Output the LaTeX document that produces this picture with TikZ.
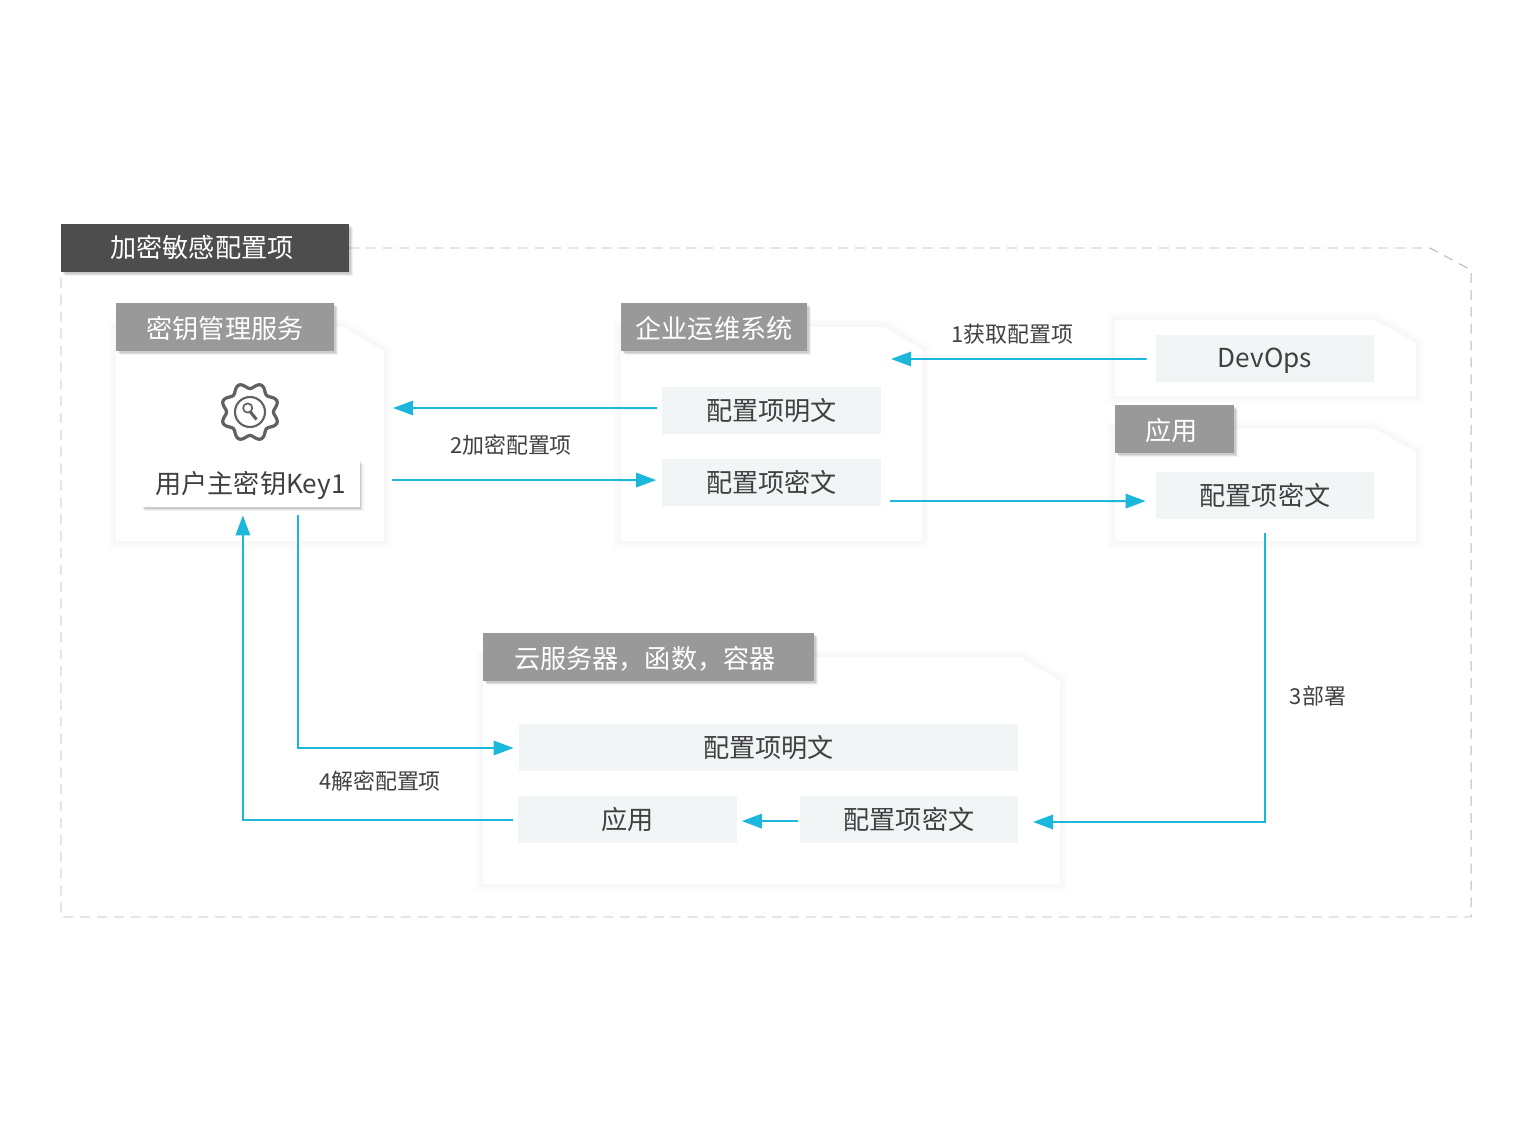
\documentclass[tikz,border=0pt]{standalone}
\usepackage{fontspec}
\setmainfont{Noto Sans CJK SC}
\usepackage{tikz}
\usetikzlibrary{arrows.meta, shadows}
\definecolor{flowcyan}{HTML}{1CB8DC}
\definecolor{itemgray}{HTML}{F1F5F5}
\definecolor{tabgray}{HTML}{999999}
\definecolor{titledark}{HTML}{4D4D4D}
\definecolor{textdark}{HTML}{404040}
\begin{document}
\begin{tikzpicture}[x=0.025cm, y=-0.025cm,
  softshadow/.style={general shadow={shadow xshift=.1cm, shadow yshift=-.1cm, opacity=.05, fill=black}, general shadow={shadow xshift=.07cm, shadow yshift=-.07cm, opacity=.07, fill=black}, general shadow={shadow xshift=.04cm, shadow yshift=-.04cm, opacity=.09, fill=black}},
  panel/.style={fill=white, line join=round, preaction={draw=black, draw opacity=.006, line width=.4cm}, preaction={draw=black, draw opacity=.006, line width=.3cm}, preaction={draw=black, draw opacity=.008, line width=.2cm}, preaction={draw=black, draw opacity=.008, line width=.1cm}},
  tab/.style={fill=tabgray, text=white, font=\fontsize{18.6}{20}\selectfont, minimum height=1.2cm, inner sep=0pt, text height=19pt, text depth=2.5pt, softshadow},
  item/.style={fill=itemgray, text=textdark, font=\fontsize{18.6}{20}\selectfont, minimum width=5.45cm, minimum height=1.18cm, inner sep=0pt},
  flow/.style={draw=flowcyan, line width=1.3pt, -{Triangle[length=.5cm, width=.36cm]}},
  note/.style={text=textdark, font=\fontsize{15.6}{18}\selectfont, inner sep=0pt},
  gearline/.style={draw=black!62, line width=2.3pt}]
 \useasboundingbox (0,0) rectangle (1531,1141);
 \fill[white] (0,0) rectangle (1531,1141);
 % outer frame
 \draw[black!28, line width=.7pt, dash pattern=on 7pt off 5pt] (349,248) -- (1430,248) -- (1471,270) -- (1471,917) -- (61,917) -- (61,272);
 \node[tab, fill=titledark, minimum width=7.2cm, text height=16.5pt] (title) at (205,248) {\hspace{-.15cm}加密敏感配置项};
 % panels
 \fill[panel] (116,327) -- (343,327) -- (384,351) -- (384,541) -- (116,541) -- cycle;
 \fill[panel] (621,327) -- (885,327) -- (922,350) -- (922,541) -- (621,541) -- cycle;
 \fill[panel] (1115,320) -- (1375,320) -- (1416,343) -- (1416,396) -- (1115,396) -- cycle;
 \fill[panel] (1115,429) -- (1375,429) -- (1416,452) -- (1416,541) -- (1115,541) -- cycle;
 \fill[panel] (483,657) -- (1020,657) -- (1060,681) -- (1060,884) -- (483,884) -- cycle;
 % tabs
 \node[tab, minimum width=5.45cm] (kmstab) at (225,327) {密钥管理服务};
 \node[tab, minimum width=4.65cm] (opstab) at (714,327) {企业运维系统};
 \node[tab, minimum width=2.975cm] (apptab) at (1174.5,429) {\hspace{-.15cm}应用};
 \node[tab, minimum width=8.275cm] (cloudtab) at (648.5,657) {\hspace{-.18cm}云服务器，函数，容器};
 % gear
 \draw[gearline] plot[domain=0:360, samples=145] ({250+(26.3-2.8*cos(8*\x))*cos(\x)}, {412+(26.3-2.8*cos(8*\x))*sin(\x)}) -- cycle;
 \draw[gearline, line width=1.5pt] (250,412) circle (15);
 \draw[gearline, line width=1.2pt] (247.7,408) circle (4.6);
 \draw[gearline, line width=2.2pt] (250.5,412) -- (256.5,419.5);
 % items
 \node[item, fill=white, softshadow, text height=18pt, text depth=4pt] (key) at (250.5,483.5) {用户主密钥Key1};
 \node[item] (plain) at (771.5,410.5) {配置项明文};
 \node[item] (cipher) at (771.5,482.5) {配置项密文};
 \node[item, text height=17pt, text depth=4pt] (devops) at (1265,358.5) {DevOps};
 \node[item] (appcipher) at (1265,495.5) {配置项密文};
 \node[item, minimum width=12.475cm] (cloudplain) at (768.5,747.5) {配置项明文};
 \node[item] (cloudapp) at (627.5,819.5) {应用};
 \node[item] (cloudcipher) at (909,819.5) {配置项密文};
 % free ends
 \coordinate (opsin) at (891,359);
 \coordinate (opsout) at (890,501);
 \coordinate (kmsin) at (393,408);
 \coordinate (kmsout) at (392,480);
 \coordinate (cloudin) at (1033,822);
 % flows
 \draw[flow] ([xshift=-.225cm, yshift=-.0125cm]devops.west) -- (opsin);
 \draw[flow] ([xshift=-.125cm, yshift=.06cm]plain.west) -- (kmsin);
 \draw[flow] (kmsout) -- ([xshift=-.15cm, yshift=.06cm]cipher.west);
 \draw[flow] (opsout) -- ([xshift=-.25cm, yshift=-.14cm]appcipher.west);
 \draw[flow] ([yshift=-.34cm]appcipher.south) |- (cloudin);
 \draw[flow] ([xshift=-.05cm, yshift=-.04cm]cloudcipher.west) -- ([xshift=.125cm, yshift=-.04cm]cloudapp.east);
 \draw[flow] ([xshift=-.125cm, yshift=-.0125cm]cloudapp.west) -| ([xshift=-.19cm, yshift=-.2cm]key.south);
 \draw[flow] ([xshift=1.19cm, yshift=-.2cm]key.south) |- ([xshift=-.125cm, yshift=-.0125cm]cloudplain.west);
 % labels
 \node[note] (getlabel) at (1012,334) {1获取配置项};
 \node[note] (enclabel) at (511,445) {2加密配置项};
 \node[note] (deploylabel) at (1318,696) {3部署};
 \node[note] (declabel) at (380,781) {4解密配置项};
\end{tikzpicture}
\end{document}
